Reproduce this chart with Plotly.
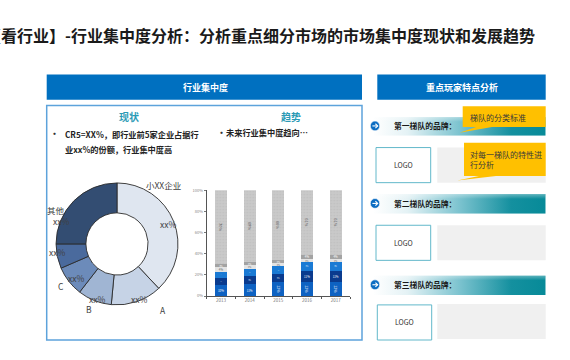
import base64
import plotly.graph_objects as go

W, H = 570, 360
def X(px): return px / W
def Y(py): return 1 - py / H

FONT = "Noto Sans CJK SC"

# ---------------- data ----------------
pie_labels = ["小XX企业", "A", "B", "C", "D", "其他"]
pie_values = [38, 13.5, 9, 8, 6.5, 25]
pie_colors = ["#DFE6F0", "#C6D3E6", "#A0B5D3", "#6C8BBA", "#4A6A9D", "#334D72"]

years = ["2013", "2014", "2015", "2016", "2017"]
seg1 = [10, 11, 13, 13, 13]
seg2 = [7, 8, 8, 11, 11]
seg3 = [6, 7, 7, 8, 8]
seg4 = [4, 3, 3, 3, 3]
seg5 = [3, 3, 3, 4, 4]
seg6 = [70, 68, 66, 61, 61]
seg_colors = ["#0E62C2", "#0A3B8E", "#1A7AD4", "#E3E3E3", "#A3A3A3", "#C9C9C9"]
seg_text_colors = ["white", "white", "white", "#666666", "white", "#555555"]

y_ticks = [0, 20, 40, 60, 80, 100]
y_ticktext = ["0%", "20%", "40%", "60%", "80%", "100%"]

tiers = ["第一梯队的品牌：", "第二梯队的品牌：", "第三梯队的品牌："]

fig = go.Figure()

# ---------------- donut ----------------
cx, cy, r = 117, 244, 62
fig.add_trace(go.Pie(
    labels=pie_labels, values=pie_values, sort=False, direction="clockwise",
    rotation=0, hole=0.51, textinfo="none", hoverinfo="skip",
    marker=dict(colors=pie_colors, line=dict(color="#2B2B2B", width=0.9)),
    domain=dict(x=[X(cx - r), X(cx + r)], y=[Y(cy + r), Y(cy - r)]),
    showlegend=False,
))

# ---------------- stacked bars ----------------
for vals, col, tcol in zip([seg1, seg2, seg3, seg4, seg5, seg6], seg_colors, seg_text_colors):
    marker = dict(color=col, line=dict(width=0))
    if col == "#C9C9C9":
        marker["pattern"] = dict(shape=".", fgcolor="#B5B5B5", size=3, solidity=0.25)
    fig.add_trace(go.Bar(
        x=years, y=vals, marker=marker,
        text=[f"{v}%" for v in vals], textposition="inside",
        insidetextanchor="middle", textfont=dict(size=4, color=tcol, family=FONT),
        hoverinfo="skip", showlegend=False,
    ))

fig.update_layout(
    barmode="stack", bargap=0.58,
    width=W, height=H, margin=dict(l=0, r=0, t=0, b=0),
    paper_bgcolor="white", plot_bgcolor="white",
    xaxis=dict(domain=[X(206.7), X(350)], type="category", showgrid=False,
               showline=True, linecolor="#555555", linewidth=1,
               ticks="outside", ticklen=2, tickcolor="#555555", tickson="boundaries",
               tickfont=dict(size=4.5, color="#777777", family=FONT), fixedrange=True),
    yaxis=dict(domain=[Y(297), Y(189.3)], range=[0, 100], showgrid=False,
               showline=True, linecolor="#555555", linewidth=1,
               ticks="outside", ticklen=2, tickcolor="#777777",
               tickvals=y_ticks, ticktext=y_ticktext,
               tickfont=dict(size=4, color="#888888", family=FONT), fixedrange=True),
)

shapes = []
annotations = []
images = []

def rect(x0, y0, x1, y1, fill=None, line=None, lw=0, layer="below"):
    shapes.append(dict(type="rect", xref="paper", yref="paper",
                       x0=X(x0), x1=X(x1), y0=Y(y1), y1=Y(y0),
                       fillcolor=fill if fill else "rgba(0,0,0,0)",
                       line=dict(color=line if line else "rgba(0,0,0,0)", width=lw),
                       layer=layer))

def ann(text, x, y, size, color="#222222", bold=False, xanchor="center", yanchor="middle", align="left"):
    if bold:
        text = f"<b>{text}</b>"
    annotations.append(dict(text=text, x=X(x), y=Y(y), xref="paper", yref="paper",
                            showarrow=False, xanchor=xanchor, yanchor=yanchor, align=align,
                            font=dict(size=size, color=color, family=FONT)))

def path(pts, fill, layer="above", line=None, lw=0, close=True):
    d = "M " + " L ".join(f"{X(px):.5f},{Y(py):.5f}" for px, py in pts)
    if close:
        d += " Z"
    shapes.append(dict(type="path", xref="paper", yref="paper", path=d,
                       fillcolor=fill if fill else "rgba(0,0,0,0)",
                       line=dict(color=line if line else "rgba(0,0,0,0)", width=lw),
                       layer=layer))

# title
ann("【看行业】-行业集中度分析：分析重点细分市场的市场集中度现状和发展趋势",
    537, 32, 16, "#1A1A1A", bold=True, xanchor="right")

# left panel
rect(46.7, 71.7, 362, 97.3, fill="#0070C0")
ann("行业集中度", 205, 84.5, 9, "white", bold=True)
rect(46.7, 103.3, 362, 341.7, line="#5DA3DB", lw=1.5)
ann("现状", 129.3, 114.3, 10, "#2A9AB5", bold=True)
ann("趋势", 290.7, 114.3, 10, "#2A9AB5", bold=True)
ann("·", 47.5, 132, 9, "#333333", bold=True, xanchor="left")
ann("CR5=XX%，即行业前5家企业占据行", 62.7, 132, 8.2, "#222222", bold=True, xanchor="left")
ann("业xx%的份额，行业集中度高", 62.7, 147.5, 8.2, "#222222", bold=True, xanchor="left")
ann("·", 214.5, 130.5, 9, "#333333", bold=True, xanchor="left")
ann("未来行业集中度趋向…", 224, 130.5, 8.2, "#222222", bold=True, xanchor="left")

# donut labels
pie_ann = [("小XX企业", 163.3, 184), ("xx%", 167.7, 224), ("xx%", 139.3, 300.2), ("A", 163.3, 311),
           ("xx%", 97.3, 299.5), ("B", 89.3, 310.5), ("xx%", 76, 278.7), ("C", 60.7, 287),
           ("xx%", 57.3, 252.7), ("其他", 55.7, 209.5), ("xx%", 60.7, 220.5)]
for t, x, y in pie_ann:
    ann(t, x, y, 8.5, "#404040")

# right column
rect(377.3, 71.7, 545.7, 97.3, fill="#0070C0")
ann("重点玩家特点分析", 461.5, 84.5, 9, "white", bold=True)

svg = ('<svg xmlns="http://www.w3.org/2000/svg" width="200" height="20" viewBox="0 0 200 20" '
       'preserveAspectRatio="none"><defs><linearGradient id="g" x1="0" x2="1" y1="0" y2="0">'
       '<stop offset="0" stop-color="#FFFFFF"/><stop offset="0.2" stop-color="#E4F2F5"/>'
       '<stop offset="0.5" stop-color="#7CC3CF"/><stop offset="0.8" stop-color="#14909F"/>'
       '<stop offset="1" stop-color="#078A98"/></linearGradient>'
       '<linearGradient id="h" x1="0" x2="0" y1="0" y2="1">'
       '<stop offset="0" stop-color="#FFFFFF" stop-opacity="0.35"/>'
       '<stop offset="0.25" stop-color="#FFFFFF" stop-opacity="0"/></linearGradient></defs>'
       '<rect width="200" height="20" fill="url(#g)"/><rect width="200" height="20" fill="url(#h)"/></svg>')
src = "data:image/svg+xml;base64," + base64.b64encode(svg.encode()).decode()

tier_y = [(115, 134), (193.3, 213.3), (276, 296)]
logo_boxes = [(376, 146, 430.7, 181.7), (376, 225, 430.7, 260.7), (377.3, 306, 431.7, 341.7)]
gray_boxes = [(437.3, 146, 545.7, 181.7), (437.3, 225, 545.7, 260.7), (437.3, 305, 545.7, 340.7)]

for (y0, y1), label in zip(tier_y, tiers):
    images.append(dict(source=src, xref="paper", yref="paper", x=X(373), y=Y(y0),
                       sizex=X(545.7) - X(373), sizey=(y1 - y0) / H,
                       xanchor="left", yanchor="top", sizing="stretch", layer="below"))
    yc = (y0 + y1) / 2 - 0.5
    shapes.append(dict(type="circle", xref="paper", yref="paper",
                       x0=X(370.3), x1=X(379.7), y0=Y(yc + 5), y1=Y(yc - 5),
                       fillcolor="#0B6CC2", line=dict(color="white", width=0.6), layer="above"))
    path([(372.4, yc), (377.6, yc)], None, line="white", lw=1.1, close=False)
    path([(375.4, yc - 2.2), (377.7, yc), (375.4, yc + 2.2)], None, line="white", lw=1.1, close=False)
    ann(label, 391.7, yc, 7.8, "#1A1A1A", bold=True, xanchor="left")

for (x0, y0, x1, y1) in gray_boxes:
    rect(x0, y0, x1, y1, fill="#F0F0F0")
for (x0, y0, x1, y1) in logo_boxes:
    rect(x0, y0, x1, y1, fill="white", line="#62B8CA", lw=1)
    ann("LOGO", (x0 + x1) / 2, (y0 + y1) / 2, 7, "#333333")

# callouts
path([(462.7, 104), (545.7, 104), (545.7, 125), (492, 125), (459.5, 131), (476, 125), (462.7, 125)], "#FFC000")
ann("梯队的分类标准", 468.3, 115.5, 8, "#3A3A3A", xanchor="left")
path([(464, 141), (545.7, 141), (545.7, 175), (496, 175), (457.3, 179.5), (479, 175), (464, 175)], "#FFC000")
ann("对每一梯队的特性进<br>行分析", 468.3, 158, 8, "#3A3A3A", xanchor="left")

fig.update_layout(shapes=shapes, annotations=annotations, images=images,
                  font=dict(family=FONT))

fig.write_html("out.html")
